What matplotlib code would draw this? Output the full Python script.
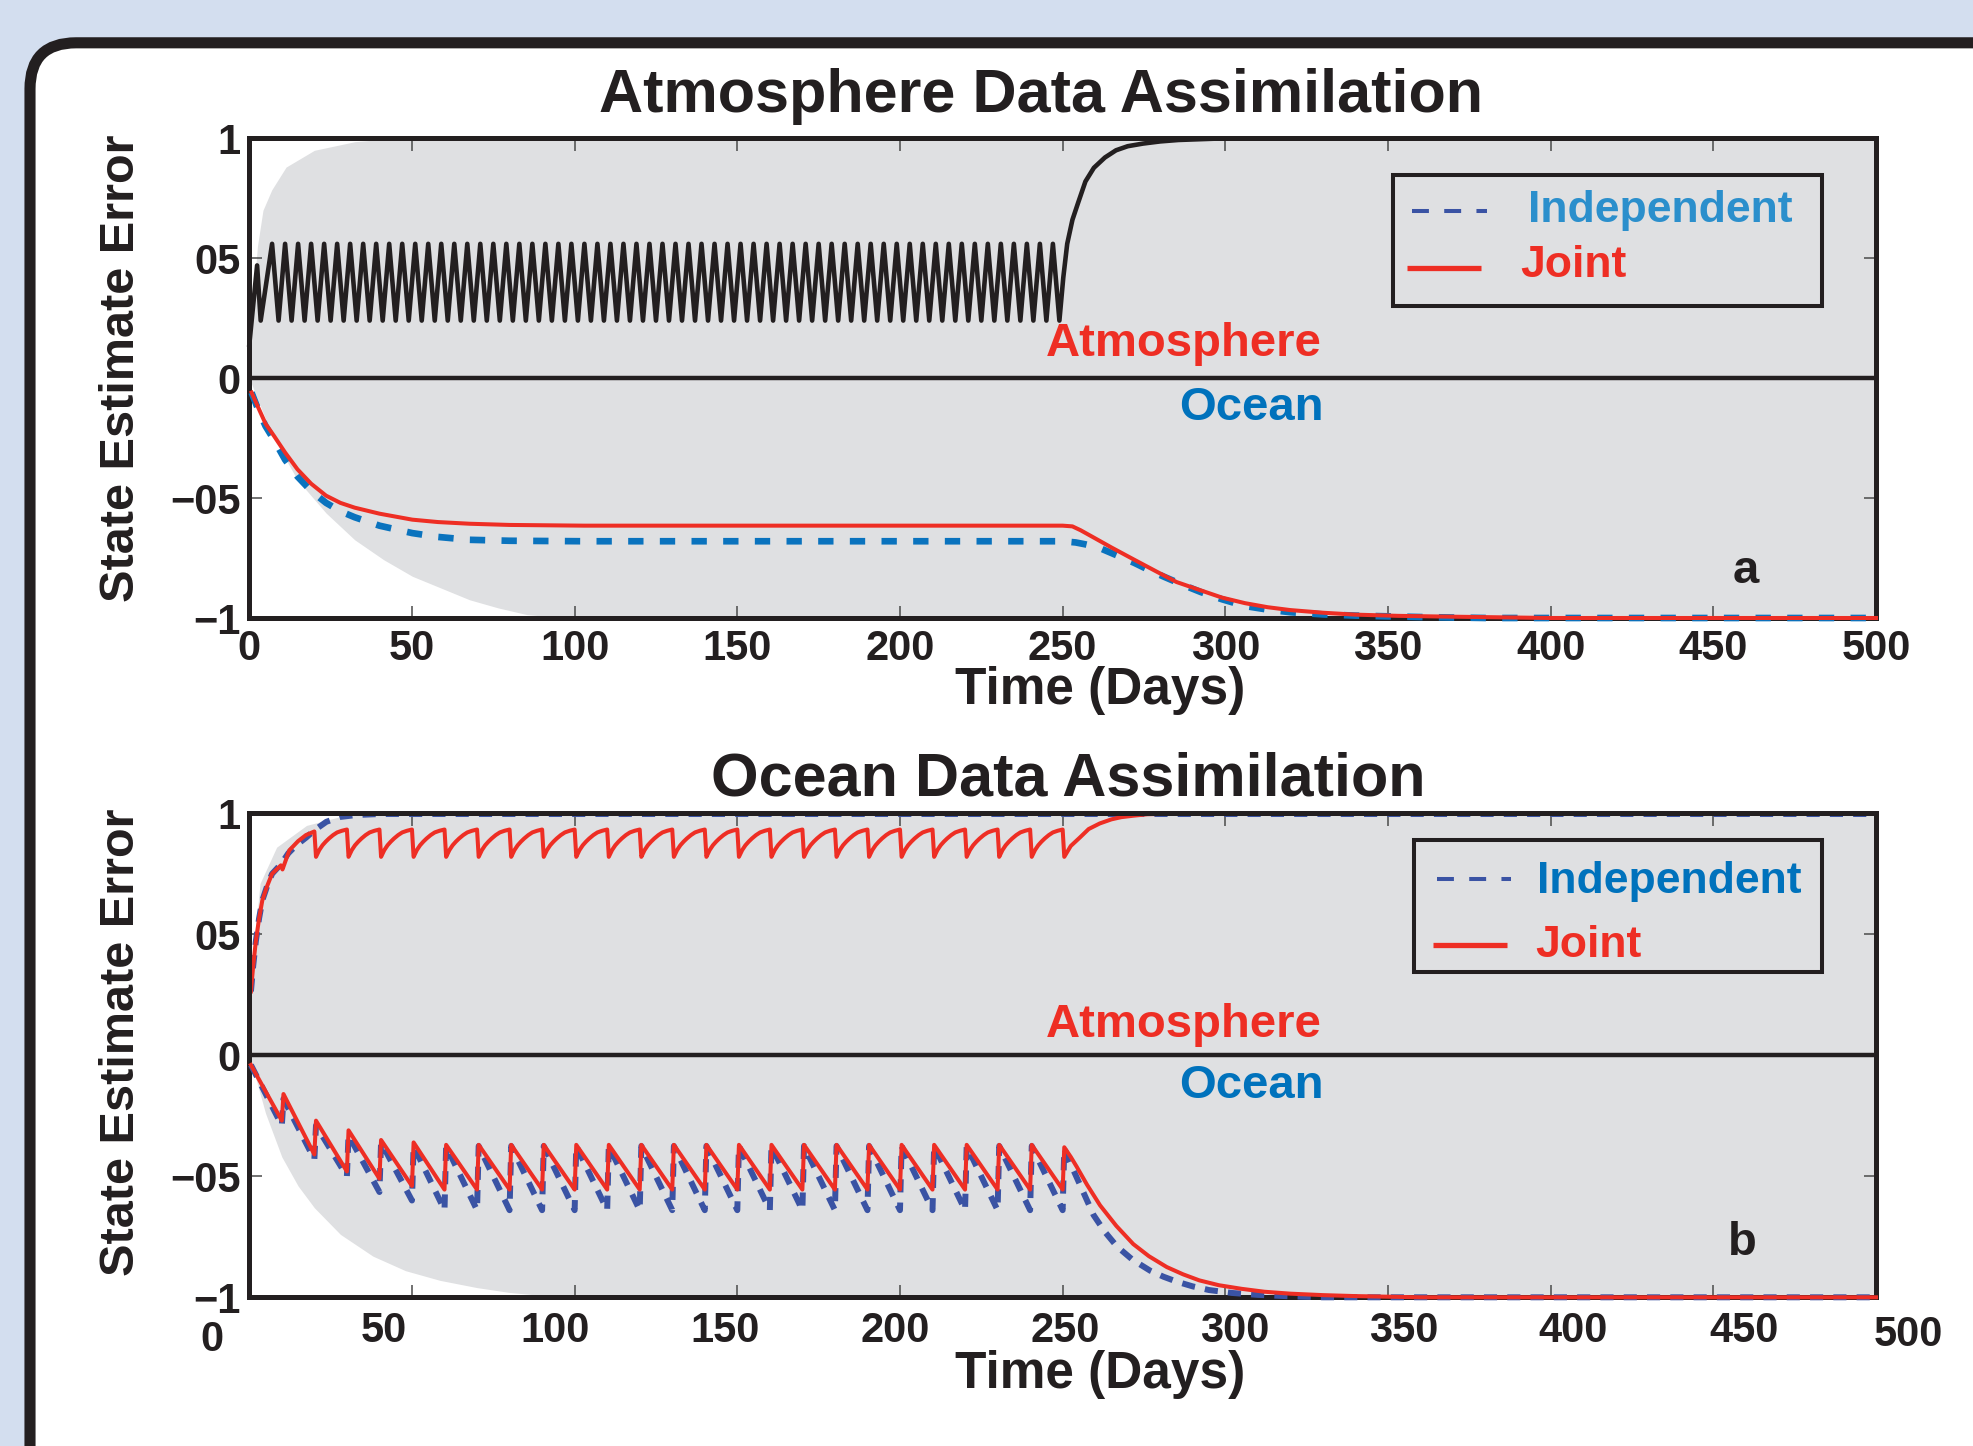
"""
State estimate error for atmosphere / ocean data assimilation (two panels).
"""

import matplotlib
matplotlib.use("Agg")
import matplotlib.pyplot as plt
from matplotlib.patches import FancyBboxPatch, Rectangle

W, H, DPI = 1974, 1446, 100

RED = "#EE2E24"
BLUE_A = "#0A73BE"
BLUE_B = "#3A53A4"
IND_TXT_A = "#2B8FCC"
IND_TXT_B = "#0072BC"
INK = "#231F20"
AX_GRAY = "#DFE0E2"
BG_BLUE = "#D3DEEF"

plt.rcParams["font.family"] = ["Liberation Sans", "DejaVu Sans"]
plt.rcParams["font.weight"] = "bold"

# ---------------- axes ----------------
x_ticks = [0, 50, 100, 150, 200, 250, 300, 350, 400, 450, 500]
x_tick_labels = ["0", "50", "100", "150", "200", "250", "300", "350", "400", "450", "500"]
y_ticks = [-1, -0.5, 0, 0.5, 1]
y_tick_labels = ["\u22121", "\u221205", "0", "05", "1"]
# panel b prints its day labels off the tick marks
b_label_days = [-11.6, 41.4, 94.0, 146.2, 198.5, 250.7, 303.0, 354.8, 407.0, 459.3, 510.0]
b_label_drop = [16, 10, 10, 10, 10, 10, 10, 10, 10, 10, 13]  # points below the axis

# ---------------- panel a: atmosphere data assimilation ----------------
a_env_up_days = [0, 1, 2.5, 4.2, 6.9, 11.3, 20, 32.5, 45, 500]
a_env_up_vals = [0.0, 0.3, 0.55, 0.70, 0.785, 0.88, 0.95, 0.986, 1.0, 1.0]
a_env_lo_days = [0, 5, 10, 14.8, 23.6, 32.4, 41.3, 50.1, 58.9, 67.7, 76.5, 85.4, 94, 105, 500]
a_env_lo_vals = [0.0, -0.17, -0.31, -0.424, -0.5625, -0.674, -0.757, -0.826, -0.875, -0.924,
                 -0.958, -0.986, -0.996, -1.0, -1.0]

a_atm_start_days = [0, 2.4, 3.5]
a_atm_start_vals = [0.14, 0.47, 0.24]
a_atm_peak_days = [7, 11, 15, 19, 23, 27, 31, 35, 39, 43, 47, 51, 55, 59, 63, 67, 71, 75, 79, 83,
                   87, 91, 95, 99, 103, 107, 111, 115, 119, 123, 127, 131, 135, 139, 143, 147, 151,
                   155, 159, 163, 167, 171, 175, 179, 183, 187, 191, 195, 199, 203, 207, 211, 215,
                   219, 223, 227, 231, 235, 239, 243, 247]
a_atm_trough_days = [9, 13, 17, 21, 25, 29, 33, 37, 41, 45, 49, 53, 57, 61, 65, 69, 73, 77, 81, 85,
                     89, 93, 97, 101, 105, 109, 113, 117, 121, 125, 129, 133, 137, 141, 145, 149,
                     153, 157, 161, 165, 169, 173, 177, 181, 185, 189, 193, 197, 201, 205, 209, 213,
                     217, 221, 225, 229, 233, 237, 241, 245, 249]
a_atm_peak = 0.56
a_atm_trough = 0.24
a_atm_tail_days = [250.2, 251.4, 253, 254.8, 257, 259.6, 263, 266.4, 270, 274.7, 280, 285.6, 300, 500]
a_atm_tail_vals = [0.42, 0.56, 0.66, 0.733, 0.82, 0.877, 0.92, 0.95, 0.967, 0.978, 0.987, 0.993,
                   1.0, 1.0]

a_ocn_joint_days = [0.7, 3, 5, 7.7, 11, 14.8, 19, 23.6, 28, 32.4, 40, 50.1, 58, 67.7, 80, 103, 250,
                    253, 255.5, 260, 265, 272, 278.8, 285, 292.5, 299, 306, 313, 320, 330, 340, 353,
                    367, 400, 500]
a_ocn_joint_vals = [-0.06, -0.13, -0.19, -0.243, -0.31, -0.38, -0.44, -0.49, -0.52, -0.54, -0.565,
                    -0.59, -0.60, -0.607, -0.612, -0.615, -0.615, -0.618, -0.634, -0.668, -0.706,
                    -0.757, -0.806, -0.85, -0.885, -0.915, -0.938, -0.955, -0.967, -0.978, -0.986,
                    -0.991, -0.994, -1.0, -1.0]
a_ocn_ind_days = [0.7, 3, 5, 7.7, 11, 14.8, 19, 23.6, 28, 32.4, 40, 50.1, 58, 67.7, 80, 103, 250,
                  254, 257, 261, 266, 272, 276.5, 281.5, 287, 292.5, 299, 306, 313, 320, 330, 340,
                  360, 380, 500]
a_ocn_ind_vals = [-0.06, -0.14, -0.2, -0.26, -0.34, -0.41, -0.47, -0.52, -0.555, -0.58, -0.615,
                  -0.646, -0.662, -0.674, -0.678, -0.68, -0.68, -0.685, -0.693, -0.706, -0.735,
                  -0.77, -0.80, -0.83, -0.862, -0.892, -0.922, -0.95, -0.965, -0.976, -0.985, -0.99,
                  -0.996, -1.0, -1.0]

# ---------------- panel b: ocean data assimilation ----------------
b_env_up_days = [0, 1, 3.3, 8.4, 17.6, 27.9, 40, 500]
b_env_up_vals = [0.0, 0.4, 0.71, 0.86, 0.95, 0.986, 1.0, 1.0]
b_env_lo_days = [0, 5, 10, 15, 20, 28, 38, 48, 58.6, 70, 80, 92, 102, 500]
b_env_lo_vals = [0.0, -0.24, -0.42, -0.54, -0.63, -0.74, -0.83, -0.89, -0.93, -0.96, -0.98,
                 -0.995, -1.0, -1.0]

b_obs_days = [10, 20, 30, 40, 50, 60, 70, 80, 90, 100, 110, 120, 130, 140, 150, 160, 170, 180,
              190, 200, 210, 220, 230, 240, 250]

# ocean error (lower half): value just before each analysis and just after it
b_ocn_joint_before = [-0.27, -0.41, -0.48, -0.51, -0.54, -0.555, -0.555, -0.555, -0.555, -0.555,
                      -0.555, -0.555, -0.555, -0.555, -0.555, -0.555, -0.555, -0.555, -0.555,
                      -0.555, -0.555, -0.555, -0.555, -0.555, -0.555]
b_ocn_joint_after = [-0.16, -0.27, -0.31, -0.35, -0.36, -0.37, -0.37, -0.37, -0.37, -0.37, -0.37,
                     -0.37, -0.37, -0.37, -0.37, -0.37, -0.37, -0.37, -0.37, -0.37, -0.37, -0.37,
                     -0.37, -0.37, -0.38]
b_ocn_ind_before = [-0.29, -0.43, -0.50, -0.565, -0.60, -0.64, -0.64, -0.64, -0.64, -0.64, -0.64,
                    -0.64, -0.64, -0.64, -0.64, -0.64, -0.64, -0.64, -0.64, -0.64, -0.64, -0.64,
                    -0.64, -0.64, -0.64]
b_ocn_ind_after = [-0.18, -0.29, -0.33, -0.36, -0.375, -0.375, -0.375, -0.375, -0.375, -0.375,
                   -0.375, -0.375, -0.375, -0.375, -0.375, -0.375, -0.375, -0.375, -0.375, -0.375,
                   -0.375, -0.375, -0.375, -0.375, -0.385]
b_ocn_start = -0.04
b_ocn_joint_tail_days = [252.5, 254.3, 257.5, 261.5, 266.5, 271.7, 276.5, 282, 287, 292, 298, 305,
                         312, 320, 330, 340, 360, 500]
b_ocn_joint_tail_vals = [-0.42, -0.46, -0.535, -0.62, -0.705, -0.78, -0.83, -0.875, -0.905, -0.93,
                         -0.95, -0.965, -0.977, -0.985, -0.991, -0.995, -1.0, -1.0]
b_ocn_ind_tail_days = [252.5, 255.5, 259.5, 263, 266.7, 271.5, 276.9, 281, 285, 290, 295, 302, 310,
                       320, 330, 500]
b_ocn_ind_tail_vals = [-0.45, -0.54, -0.66, -0.73, -0.79, -0.845, -0.89, -0.915, -0.935, -0.955,
                       -0.97, -0.982, -0.99, -0.996, -1.0, -1.0]

# atmosphere error (upper half)
b_atm_joint_start_days = [0.5, 1.2, 2, 3, 4, 5.5, 7, 9.7, 10.2, 12.3, 15, 17.4]
b_atm_joint_start_vals = [0.264, 0.37, 0.47, 0.565, 0.64, 0.70, 0.75, 0.785, 0.768, 0.847, 0.885,
                          0.91]
b_atm_joint_peaks = [0.925, 0.933, 0.933, 0.933, 0.933, 0.933, 0.933, 0.933, 0.933, 0.933, 0.933,
                     0.933, 0.933, 0.933, 0.933, 0.933, 0.933, 0.933, 0.933, 0.933, 0.933, 0.933,
                     0.933, 0.933]
b_atm_joint_rise_offsets = [0.5, 1.5, 2.5, 3.5, 4.5, 5.75, 7.0, 8.5]
b_atm_joint_rise_vals = [0.82, 0.848, 0.868, 0.883, 0.896, 0.91, 0.921, 0.928]
b_atm_joint_tail_days = [250.5, 252.5, 255.3, 258, 261.4, 265, 268, 271.7, 276, 282, 500]
b_atm_joint_tail_vals = [0.82, 0.865, 0.90, 0.935, 0.958, 0.975, 0.984, 0.99, 0.996, 0.998, 0.998]
b_atm_ind_days = [0.5, 1.2, 2, 3, 4, 5.5, 7, 9.4, 11, 12, 14, 15.6, 17.5, 20, 23.7, 28, 33, 40, 500]
b_atm_ind_vals = [0.264, 0.37, 0.47, 0.565, 0.64, 0.70, 0.75, 0.785, 0.815, 0.835, 0.862, 0.88,
                  0.9, 0.93, 0.965, 0.985, 0.993, 0.997, 0.997]


def zigzag():
    days, vals = list(a_atm_start_days), list(a_atm_start_vals)
    for p, t in zip(a_atm_peak_days, a_atm_trough_days):
        days += [p, t]
        vals += [a_atm_peak, a_atm_trough]
    return days + a_atm_tail_days, vals + a_atm_tail_vals


def sawtooth_down(before, after, tail_days, tail_vals):
    days, vals = [0.5], [b_ocn_start]
    for d, v0, v1 in zip(b_obs_days, before, after):
        days += [d, d + 0.5]
        vals += [v0, v1]
    return days + tail_days, vals + tail_vals


def sawtooth_up():
    days, vals = list(b_atm_joint_start_days), list(b_atm_joint_start_vals)
    for d, pk in zip(b_obs_days[1:], b_atm_joint_peaks):
        days.append(d)
        vals.append(pk)
        if d < b_obs_days[-1]:
            days += [d + o for o in b_atm_joint_rise_offsets]
            vals += b_atm_joint_rise_vals
    return days + b_atm_joint_tail_days, vals + b_atm_joint_tail_vals


def px_axes(fig, left, top, right, bottom):
    return fig.add_axes([left / W, 1 - bottom / H, (right - left) / W, (bottom - top) / H], zorder=1)


def style(ax):
    ax.set_facecolor(AX_GRAY)
    ax.set_xlim(0, 500)
    ax.set_ylim(-1, 1)
    for s in ax.spines.values():
        s.set_linewidth(3.6)
        s.set_color(INK)
    ax.set_xticks(x_ticks)
    ax.set_yticks(y_ticks, y_tick_labels)
    ax.tick_params(direction="in", length=9, width=1.1, color="#4a4a4a", top=True, right=True,
                   labelsize=30, labelcolor=INK)
    ax.tick_params(axis="y", pad=6.5)
    ax.tick_params(axis="x", pad=8)
    ax.axhline(0, color=INK, lw=3.2, zorder=2.6)


fig = plt.figure(figsize=(W / DPI, H / DPI), dpi=DPI)
fig.patch.set_facecolor(BG_BLUE)

bg = fig.add_axes([0, 0, 1, 1], zorder=0)
bg.set_xlim(0, W)
bg.set_ylim(H, 0)
bg.axis("off")
bg.add_patch(FancyBboxPatch((30, 42.8), 2000, 1480, boxstyle="round,pad=0,rounding_size=46",
                            facecolor="white", edgecolor=INK, lw=8))

# ---- panel a ----
ax_a = px_axes(fig, 249.3, 138.3, 1876, 618)
style(ax_a)
ax_a.set_xticks(x_ticks, x_tick_labels)
ax_a.fill_between(a_env_up_days, a_env_up_vals, 1, color="white", lw=0, zorder=1)
ax_a.fill_between(a_env_lo_days, -1, a_env_lo_vals, color="white", lw=0, zorder=1)
zd, zv = zigzag()
ax_a.plot(zd, zv, color=INK, lw=3.3, zorder=3, clip_on=False)
ax_a.plot(a_ocn_ind_days, a_ocn_ind_vals, color=BLUE_A, lw=4.8, ls=(0, (2.3, 2.45)),
          zorder=3, clip_on=False)
ax_a.plot(a_ocn_joint_days, a_ocn_joint_vals, color=RED, lw=2.9, zorder=3.1, clip_on=False)

# ---- panel b ----
ax_b = px_axes(fig, 249.3, 813.3, 1876, 1297.3)
style(ax_b)
ax_b.tick_params(axis="x", labelbottom=False)
for d, lbl, drop in zip(b_label_days, x_tick_labels, b_label_drop):
    ax_b.annotate(lbl, xy=(d, 0), xycoords=("data", "axes fraction"), xytext=(0, -drop),
                  textcoords="offset points", ha="center", va="top", fontsize=30, color=INK,
                  annotation_clip=False)
ax_b.fill_between(b_env_up_days, b_env_up_vals, 1, color="white", lw=0, zorder=1)
ax_b.fill_between(b_env_lo_days, -1, b_env_lo_vals, color="white", lw=0, zorder=1)
ax_b.plot(b_atm_ind_days, b_atm_ind_vals, color=BLUE_B, lw=4.3, ls=(0, (2.2, 1.7)), zorder=2.4)
d, v = sawtooth_down(b_ocn_ind_before, b_ocn_ind_after, b_ocn_ind_tail_days, b_ocn_ind_tail_vals)
ax_b.plot(d, v, color=BLUE_B, lw=4.3, ls=(0, (2.2, 1.7)), zorder=3, clip_on=False)
d, v = sawtooth_up()
ax_b.plot(d, v, color=RED, lw=2.9, zorder=2.45)
d, v = sawtooth_down(b_ocn_joint_before, b_ocn_joint_after, b_ocn_joint_tail_days,
                     b_ocn_joint_tail_vals)
ax_b.plot(d, v, color=RED, lw=2.9, zorder=3.1, clip_on=False)

# ---- overlay: titles, labels, legends (pixel coordinates) ----
ov = fig.add_axes([0, 0, 1, 1], zorder=5)
ov.patch.set_alpha(0)
ov.axis("off")
ov.set_xlim(0, W)
ov.set_ylim(H, 0)

ov.text(1041, 112, "Atmosphere Data Assimilation", ha="center", va="baseline", fontsize=44, color=INK)
ov.text(1068, 796, "Ocean Data Assimilation", ha="center", va="baseline", fontsize=44, color=INK)
for yb in (704, 1388):
    ov.text(1100, yb, "Time (Days)", ha="center", va="baseline", fontsize=37, color=INK)
for yc in (368, 1042):
    ov.text(122, yc, "State Estimate Error", ha="center", va="center", rotation=90,
            fontsize=35, color=INK)

for ya, yo in ((356.5, 420), (1036.7, 1098)):
    ov.text(1322, ya, "Atmosphere", ha="right", va="baseline", fontsize=34, color=RED)
    ov.text(1324, yo, "Ocean", ha="right", va="baseline", fontsize=34, color=IND_TXT_B)
ov.text(1733, 583, "a", ha="left", va="baseline", fontsize=34, color=INK)
ov.text(1728, 1255, "b", ha="left", va="baseline", fontsize=34, color=INK)

legends = [
    # box (l, t, r, b), dash line (x0, x1, y), ind text (x, base), red line (x0, x1, y), joint text
    ((1393, 175, 1822, 306), (1412, 1487, 211), (1528, 222), (1407, 1481, 268), (1520, 277), IND_TXT_A),
    ((1413.5, 840, 1822, 972), (1437, 1511, 878.5), (1536.5, 893), (1433, 1507, 945), (1535.6, 957), IND_TXT_B),
]
for box, dl, it, rl, jt, icol in legends:
    ov.add_patch(Rectangle((box[0], box[1]), box[2] - box[0], box[3] - box[1], fill=False,
                           ec=INK, lw=2.9))
    ov.plot([dl[0], dl[1]], [dl[2], dl[2]], color=BLUE_B, lw=2.9, ls=(0, (4.2, 3.8)))
    ov.plot([rl[0], rl[1]], [rl[2], rl[2]], color=RED, lw=3.8, solid_capstyle="butt")
    ov.text(it[0], it[1], "Independent", ha="left", va="baseline", fontsize=32, color=icol)
    ov.text(jt[0], jt[1], "Joint", ha="left", va="baseline", fontsize=32, color=RED)
ov.set_xlim(0, W)
ov.set_ylim(H, 0)

fig.savefig("out.png", dpi=DPI, facecolor=fig.get_facecolor())
